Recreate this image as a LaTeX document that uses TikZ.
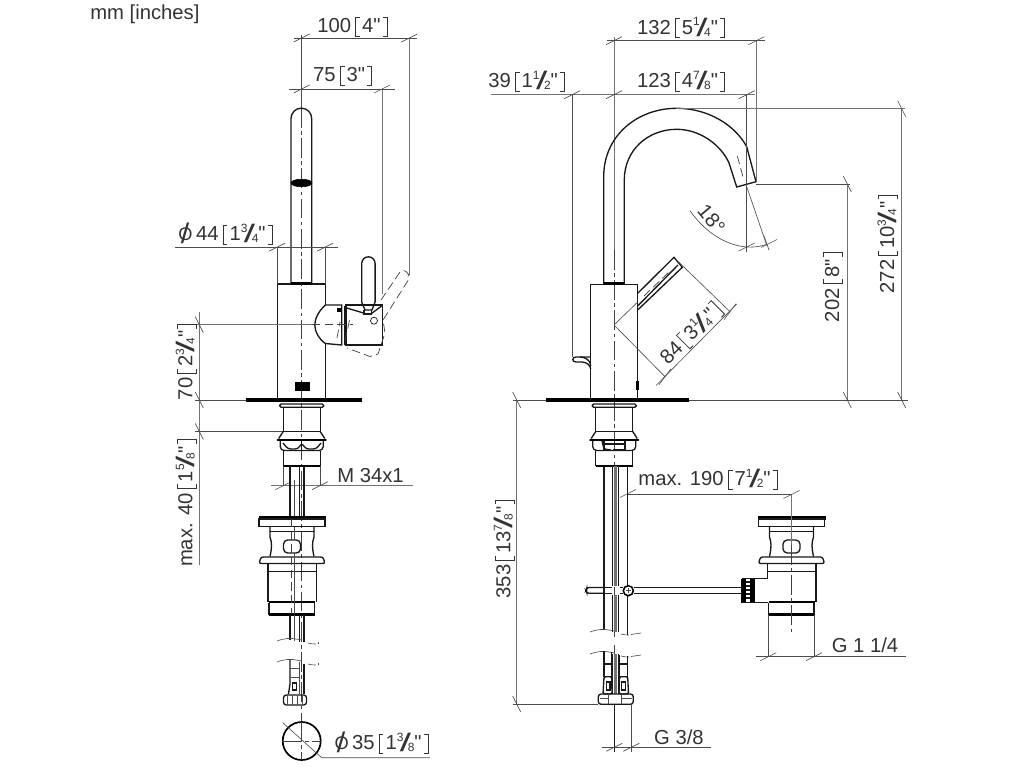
\documentclass[tikz,border=0pt]{standalone}
\usepackage{fontspec}
\usepackage{graphicx}
\setmainfont{Liberation Sans}[Ligatures=TeXOff]
\tikzset{
	part/.style={line width=0.95pt, color=black!90},
	heavy/.style={line width=1.7pt, color=black},
	plate/.style={line width=2.2pt, color=black},
	dimline/.style={line width=0.45pt, color=black!70},
	extline/.style={line width=0.6pt, color=black!55},
	axisline/.style={line width=0.45pt, color=black!75, dash pattern=on 14pt off 2.5pt on 2.5pt off 2.5pt},
	hidden/.style={line width=0.5pt, color=black!75, dash pattern=on 6pt off 3pt},
	label/.style={inner sep=0pt, text height=12.4pt, text depth=2pt, color=black!80, font=\fontsize{14.4}{15}\selectfont},
}
\def\htick(#1,#2){\draw[dimline] ({#1-8},{#2+4}) -- ({#1+8},{#2-4});}
\def\vtick(#1,#2){\draw[dimline] ({#1-4},{#2-8}) -- ({#1+4},{#2+8});}
\def\xtick(#1,#2){\draw[dimline] ({#1-6},{#2+8}) -- ({#1+6},{#2-8});}
\def\wavy(#1,#2,#3){
	\draw[dimline] (#1,{#3+1}) .. controls ({#1+8},{#3-2}) and ({#1+14},{#3-2}) .. ({#1+19},{#3-1});
	\draw[dimline] ({#1+19},{#3-1}) -- ({#1+25},{#3});
	\draw[dimline] ({#1+31},{#3+3}) .. controls ({#1+35},{#3+4}) and ({#1+37},{#3+4}) .. ({#1+39},{#3+4});
	\draw[dimline] ({#1+41},{#3+3.5}) -- (#2,{#3+2});
}
\newcommand{\frc}[2]{\raisebox{.4em}{\fontsize{8.5}{8}\selectfont #1}\kern-.17em\raisebox{-.12em}{\scalebox{2}[1.25]{/}}\kern-.17em\raisebox{-.12em}{\fontsize{8.5}{8}\selectfont #2}}
\newcommand{\lbk}{\rule[-.21em]{.04em}{.98em}\rule[-.21em]{.2em}{.04em}\kern-.2em\rule[.73em]{.2em}{.04em}}
\newcommand{\rbk}{\rule[-.21em]{.2em}{.04em}\kern-.2em\rule[.73em]{.2em}{.04em}\rule[-.21em]{.04em}{.98em}}
\newcommand{\brk}[1]{\kern.2em\lbk\kern.1em#1\kern.1em\rbk}
\newcommand{\dia}{\makebox[0pt][l]{\kern.12em\raisebox{-.15em}{\scalebox{1.5}[1.4]{/}}}\scalebox{.9}{O}}
% drain plug, origin on its axis
\def\plug(#1){
	\begin{scope}[shift={(#1,0)}]
		\draw[plate] (-33.5,518) -- (34,518);
		\draw[part] (-33,519) rectangle (33,526.5);
		\draw[part] (-22,526.5) -- (-22,537) .. controls (-20,543) and (-20,547) .. (-22,556.5);
		\draw[part] (22,526.5) -- (22,537) .. controls (20,543) and (20,547) .. (22,556.5);
		\draw[part] (-22,531.5) -- (22,531.5);
		\draw[part, rounded corners=3] (-8.5,540) rectangle (8.5,553);
		\draw[part, rounded corners=1.5] (-33,563.5) -- (-31,557) -- (31,557) -- (33,563.5) -- cycle;
		\draw[part] (-24,571.7) -- (24.5,571.7);
		\draw[part] (24.5,564) -- (24.5,601.7);
		\draw[heavy] (-23,602.2) -- (23,602.2);
		\draw[part] (-23,602.5) -- (-23,614.5);
		\draw[part] (22.5,602.5) -- (22.5,614.5);
		\draw[heavy] (-23,614.5) -- (22.5,614.5);
	\end{scope}
}
% threaded part under the plate, origin on its axis
\def\fitting(#1){
	\begin{scope}[shift={(#1,0)}]
		\draw[part, rounded corners=1] (-22,404) rectangle (22,407.3);
		\draw[part] (-18.5,407.3) -- (-18.5,431.5);
		\draw[part] (18.5,407.3) -- (18.5,431.5);
		\draw[part] (-18.5,431.5) -- (18.5,431.5);
		\draw[part] (-18.5,431.5) -- (-23,438.5);
		\draw[part] (18.5,431.5) -- (23,438.5);
		\draw[heavy, line cap=round] (-24,439.8) -- (24,439.8);
		\draw[part, rounded corners=1] (-21.5,441) -- (-21.5,448) -- (-19,450.5) -- (19,450.5) -- (21.5,448) -- (21.5,441);
		\draw[part] (-18.5,450.5) -- (-18.5,466);
		\draw[part] (18.5,450.5) -- (18.5,466);
		\draw[heavy] (-18.5,466) -- (18.5,466);
	\end{scope}
}

\begin{document}
\begin{tikzpicture}[x=0.025cm, y=-0.025cm]
	\useasboundingbox (0,0) rectangle (1024,768);
	%%%%% START %%%%%

	\node[label, anchor=west] (unit) at (90,12) {mm [inches]};

	%%%%% side view %%%%%
	\draw[dimline] (301.7,35) -- (301.7,108);
	\draw[axisline] (301.7,108) -- (301.7,722);

	\draw[part] (291,284) -- (291,118.5) arc (180:360:10.35) -- (311.7,284);
	\draw[fill=black] (301.5,183) ellipse (10.5 and 3.8);
	\draw[part] (277.3,398) -- (277.3,284) -- (325.3,284) -- (325.3,305);
	\draw[part] (325.3,343.5) -- (325.3,398);
	\draw[heavy] (291,283.4) -- (311.7,283.4);
	\draw[fill=black] (295,382) rectangle (309,390);
	\draw[plate] (246,400) -- (361.7,400);

	% hub and lever
	\draw[part] (341.7,305) -- (325.3,305) .. controls (319,311) and (314.8,318) .. (314.8,325) .. controls (314.8,332) and (319,339) .. (325.3,343.5) -- (341.7,345) -- cycle;
	\draw[part] (345,306) -- (345,345);
	\draw[part] (346,305) -- (382.3,305) -- (382.3,345) -- (346,345) -- cycle;
	\draw[fill=black] (337,308) rectangle (340,311);
	\draw[part] (361.7,302) -- (361.7,263.5) arc (180:360:6.7) -- (375.1,302) -- (372,310) -- (365,310) -- cycle;
	\draw[part] (364,310) -- (364,314) -- (371.5,314) -- (371.5,310);
	\draw[part] (346.7,308) -- (363.5,313);
	\draw[part] (371.5,313.5) -- (382.3,305.5);
	\draw[line width=0.45pt] (374,320.7) circle (3.5);
	\draw[hidden] (381,300) -- (400,272) .. controls (403,268) and (410,272) .. (409,279) -- (383,320) -- (385,333) -- (378,354) -- (370,356.5) -- (347,348);
	\draw[hidden] (337,338) -- (340,322);
	\draw[hidden] (345,341) -- (350,318);

	\draw[extline] (409.3,38) -- (409.3,275);
	\draw[extline] (382,89) -- (382,294);
	\draw[dimline] (294,38) -- (417,38);
	\htick(301.7,38) \htick(409.3,38)
	\node[label] (widthA) at (352.5,25) {100\brk{4"}};
	\draw[dimline] (289,89) -- (395,89);
	\htick(301.7,89) \htick(382,89)
	\node[label] (widthB) at (342.5,74) {75\brk{3"}};

	\draw[dimline] (175,247) -- (338,247);
	\draw[dimline] (277.3,247) -- (277.3,284);
	\draw[dimline] (325.3,247) -- (325.3,284);
	\htick(277.3,247) \htick(325.3,247)
	\node[label] (bodydia) at (225.5,233) {\dia\,44\brk{1\frc{3}{4}"}};

	\draw[extline] (195,324.7) -- (312,324.7);
	\draw[hidden] (312,324.7) -- (353,324.7);
	\draw[extline] (199.3,312) -- (199.3,565);
	\draw[dimline] (195,400) -- (246,400);
	\draw[dimline] (195,431.5) -- (283,431.5);
	\vtick(199.3,324.7) \vtick(199.3,400) \vtick(199.3,431.5)
	\node[label, rotate=90] (heightA) at (185,362) {70\brk{2\frc{3}{4}"}};
	\node[label, rotate=90] (deckmax) at (185,503) {max. 40\brk{1\frc{5}{8}"}};

	\fitting(301.7)
	\draw[part] (301.7,441) -- (301.7,450);
	\draw[part, rounded corners=2] (283,443) -- (288,449) -- (298,449) -- (301.7,443) -- (306,449) -- (316,449) -- (321,443);

	\draw[dimline] (283.3,466) -- (283.3,486);
	\draw[dimline] (320,466) -- (320,486);
	\draw[extline] (271,485.7) -- (412.7,485.7);
	\htick(283.3,485.7) \htick(320,485.7)
	\node[label] (thread) at (370.5,475) {M 34x1};

	\draw[part] (290,466) -- (290,517);
	\draw[dimline] (294.3,480) -- (294.3,517);
	\draw[part] (299.3,466) -- (299.3,517);
	\draw[part] (304,466) -- (304,517);
	\plug(292)
	\draw[part] (268,564) -- (268,601.7);
	\draw[hidden] (291.7,519) -- (291.7,614);
	\draw[dimline] (294.3,526.5) -- (294.3,540) (294.3,553) -- (294.3,614);
	\draw[part] (290,615) -- (290,640);
	\draw[dimline] (294.3,615) -- (294.3,641);
	\draw[part] (299.5,615) -- (299.5,642);
	\draw[part] (304,615) -- (304,642);
	\wavy(277,318,640)
	\wavy(277,318,661)

	\draw[part] (290,660) -- (290,684) -- (288.5,694);
	\draw[dimline] (299.3,662) -- (299.3,694);
	\draw[part] (304,664) -- (304,694);
	\draw[dimline] (290,668) -- (299,668);
	\draw[dimline] (291,677) -- (299,677);
	\draw[part] (292.5,683) rectangle (296.5,690);
	\draw[part, rounded corners=2] (283.5,695) rectangle (306.5,705);
	\draw[dimline] (287.5,695) -- (287.5,705) (292,695) -- (292,705) (297,695) -- (297,705) (302,695) -- (302,705);

	\draw[heavy, line width=1.2pt] (301.7,741) circle (19);
	\draw[axisline] (282,741) -- (321,741);
	\draw[axisline] (301.7,722) -- (301.7,760);
	\draw[dimline] (282.7,722.7) -- (321.7,757.7) -- (430,757.7);
	\node[label] (pipedia) at (381.5,742) {\dia\,35\brk{1\frc{3}{8}"}};

	%%%%% front view %%%%%
	\draw[extline] (614,36.7) -- (614,250);
	\draw[axisline] (614,250) -- (614,466);
	\draw[part] (603.7,284) -- (603.7,176.7) .. controls (603.7,135) and (638,108.3) .. (676.7,108.3) .. controls (708,108.3) and (735,125) .. (746.7,146.7) -- (756,181.7) -- (736.7,187) -- (729,163) .. controls (721,145) and (700,129.3) .. (676.7,129.3) .. controls (648,129.3) and (624.3,150) .. (624.3,180) -- (624.3,284);
	\draw[hidden] (737.3,156) -- (743.3,178);
	\draw[part] (590.7,398) -- (590.7,284.3) -- (637.7,284.3) -- (637.7,398);
	\draw[heavy] (603.7,283.6) -- (624.3,283.6);
	\draw[heavy] (637.5,381) -- (637.5,390);
	\draw[plate] (546,400) -- (689.3,400);

	% lever
	\draw[part] (637.7,293.3) -- (674,257.3) -- (682.3,267.3) -- (637.7,310);
	\draw[part] (637.7,306) -- (678,265);
	\draw[hidden] (644,296) -- (670,271);
	\draw[dimline] (614,325) -- (637.7,302);
	\draw[dimline] (614,325) -- (665,376.7);
	\draw[dimline] (678.3,261.7) -- (730,311.7);
	\draw[dimline] (656,385.5) -- (736.7,304);
	\xtick(665,376.7) \xtick(730,311.7)
	\node[label, rotate=45] (leverlen) at (690,333) {84\brk{3\frc{1}{4}"}};

	% pop-up rod on the side of the body
	\draw[part] (590.7,357) -- (576,357) .. controls (572,357) and (571.5,362) .. (576,362) -- (582,362) .. controls (587,362) and (590.7,366) .. (590.7,369);
	\draw[part] (580,357) .. controls (585,357) and (590.7,360) .. (590.7,366);

	\draw[extline] (756.3,40.7) -- (756.3,181);
	\draw[dimline] (746.7,94.7) -- (746.7,252);
	\draw[dimline] (572.3,94.7) -- (572.3,357);
	\draw[dimline] (606.7,40.7) -- (765,40.7);
	\htick(614,40.7) \htick(756.3,40.7)
	\node[label] (reachA) at (681,26.7) {132\brk{5\frc{1}{4}"}};
	\draw[extline] (491,94.7) -- (755,94.7);
	\htick(572.3,94.7) \htick(614,94.7) \htick(746.7,94.7)
	\node[label] (reachB) at (681,80) {123\brk{4\frc{7}{8}"}};
	\node[label] (rodpos) at (526.5,80) {39\brk{1\frc{1}{2}"}};

	% angle of the outlet
	\draw[dimline] (746.7,186.7) -- (767,246);
	\draw[dimline] (690,210.7) .. controls (702,228) and (722,245) .. (746.7,247) .. controls (755,247.5) and (762,246) .. (767,244.3);
	\htick(746.7,247) \htick(769,243.5)
	\draw[dimline] (764,236) -- (769,250);
	\node[label, rotate=-50] (angle) at (711.7,219) {18°};

	\draw[extline] (676,108.7) -- (905,108.7);
	\draw[dimline] (756,184) -- (850,184);
	\draw[extline] (847.3,184) -- (847.3,400);
	\draw[extline] (901.7,108.7) -- (901.7,400);
	\draw[dimline] (689,400) -- (908,400);
	\vtick(847.3,184) \vtick(847.3,400) \vtick(901.7,108.7) \vtick(901.7,400)
	\node[label, rotate=90] (heightB) at (831.7,287) {202\brk{8"}};
	\node[label, rotate=90] (heightC) at (886.7,244) {272\brk{10\frc{3}{4}"}};

	\draw[dimline] (513,400) -- (546,400);
	\draw[dimline] (513,704) -- (598,704);
	\draw[extline] (516.7,400) -- (516.7,704);
	\vtick(516.7,400) \vtick(516.7,704)
	\node[label, rotate=90] (overall) at (503,549) {353\brk{13\frc{7}{8}"}};

	\fitting(614.2)
	\draw[part, rounded corners=1] (602,441) -- (604,449) -- (611,450);
	\draw[part] (602,444) -- (625,444) (604,441) -- (604,450) (625,441) -- (625,450) (613,450) -- (625,450);
	\draw[axisline] (614,466) -- (614,640);

	% hoses
	\draw[part] (604,466) -- (604,630);
	\draw[part] (627.7,466) -- (627.7,586) (627.7,596) -- (627.7,635);
	\draw[part] (612.6,466) -- (612.6,586) (612.6,595) -- (612.6,632);
	\draw[part] (618.3,466) -- (618.3,586) (618.3,595) -- (618.3,632);
	\draw[line width=1.6pt, color=black!55] (615.5,466) -- (615.5,586) (615.5,595) -- (615.5,632);
	\wavy(590,641,631)
	\wavy(590,641,653)
	\draw[dimline] (614,645) -- (614,660);

	\draw[part] (604,651) -- (604,676.7);
	\draw[part] (611.7,652) -- (611.7,676.7);
	\draw[part] (619.5,655) -- (619.5,676.7);
	\draw[part] (627.7,656) -- (627.7,676.7);
	\draw[part] (604,664) -- (611.7,664) (619.5,664) -- (627.7,664);
	\draw[part] (612.6,654) -- (612.6,694) (618.3,654) -- (618.3,694);
	\draw[line width=1.6pt, color=black!55] (615.5,654) -- (615.5,694);
	\draw[part, rounded corners=1] (604,676.7) -- (603,694) -- (612,694) -- (611.7,676.7) -- cycle;
	\draw[part, rounded corners=1] (619.5,676.7) -- (619,694) -- (628.5,694) -- (627.7,676.7) -- cycle;
	\draw[part] (606.5,682) rectangle (610,690);
	\draw[part] (621.5,682) rectangle (625.5,690);
	\draw[part, rounded corners=2] (598.3,694) rectangle (633.3,704.3);
	\draw[dimline] (600,698) -- (608,698) (608,694) -- (608,704) (621,694) -- (621,704) (622,698) -- (632,698);

	\draw[part] (614.3,704.3) -- (614.3,752);
	\draw[dimline] (631.3,704.3) -- (631.3,752);
	\draw[dimline] (601.7,747.3) -- (711,747.3);
	\htick(614.3,747.3) \htick(631.3,747.3)
	\node[label] (connect) at (679,737) {G 3/8};

	% pull rod with its clip
	\draw[part, rounded corners=1.5] (603,587.5) -- (587,587.5) -- (586,590.5) -- (587,593.3) -- (603,593.3);
	\draw[part] (605,587.5) -- (611.5,587.5) (605,593.3) -- (611.5,593.3);
	\draw[part] (619.5,587.5) -- (623,587.5) (619.5,593.3) -- (623,593.3);
	\draw[part] (633.5,587.7) -- (742,587.7) (633.5,593.3) -- (742,593.3);
	\draw[heavy, line width=1.1pt, fill=white] (628.3,590.7) circle (5);
	\draw[dimline] (625.5,590.7) -- (631,590.7) (628.3,588) -- (628.3,593.4);

	\draw[dimline] (628,494.5) -- (791.5,494.5);
	\htick(628,493.5) \htick(791.5,494.5)
	\node[label] (drainpos) at (708,478) {max. 190\brk{7\frc{1}{2}"}};

	\plug(791.5)
	\draw[extline] (791.5,494.5) -- (791.5,545);
	\draw[axisline] (791.5,545) -- (791.5,632.7);
	\draw[part] (767.7,564) -- (767.7,578.7) -- (754.3,578.7);
	\draw[part] (754.3,602.7) -- (768.3,602.7);
	\draw[part] (754.3,578.3) -- (754.3,602.7);
	\draw[fill=black] (741.7,579) rectangle (745.5,602.3);
	\draw[fill=black] (750,579) rectangle (754.3,602.3);
	\draw[part] (741.7,578.5) -- (754.3,578.5) (741.7,602.6) -- (754.3,602.6);
	\draw[part] (745.5,582) -- (750,582) (745.5,586) -- (750,586) (745.5,590) -- (750,590) (745.5,594) -- (750,594) (745.5,598) -- (750,598);

	\draw[dimline] (768.3,615) -- (768.3,656.7);
	\draw[dimline] (814,615) -- (814,656.7);
	\draw[dimline] (756,656.7) -- (906,656.7);
	\htick(768.3,656.7) \htick(814,656.7)
	\node[label] (drainthread) at (865,645) {G 1 1/4};

	%%%%% END %%%%%
\end{tikzpicture}
\end{document}
